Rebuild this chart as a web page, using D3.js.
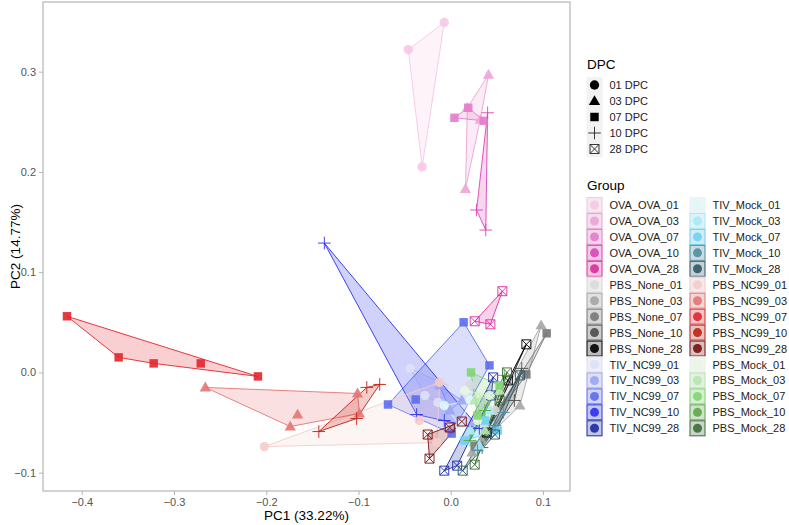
<!DOCTYPE html>
<html>
<head>
<meta charset="utf-8">
<script src="https://cdn.jsdelivr.net/npm/d3@7"></script>
<style>
  body { margin: 0; background: #fff; }
  text { font-family: "Liberation Sans", Arial, sans-serif; }
</style>
</head>
<body>
<div id="chart"></div>
<script>
// PCA scores: [DPC, PC1, PC2]
const OVA_OVA = [
  ["01", -0.007, 0.349], ["01", -0.046, 0.322], ["01", -0.031, 0.205],
  ["03", 0.041, 0.297], ["03", 0.018, 0.264], ["03", 0.016, 0.183], ["03", 0.032, 0.252],
  ["07", 0.004, 0.254], ["07", 0.019, 0.264], ["07", 0.036, 0.251],
  ["10", 0.040, 0.259], ["10", 0.028, 0.162], ["10", 0.038, 0.142],
  ["28", 0.056, 0.081], ["28", 0.026, 0.051], ["28", 0.043, 0.048]
];
const PBS_None = [
  ["01", 0.021, -0.013], ["01", 0.048, -0.038], ["01", 0.037, -0.053],
  ["03", 0.098, 0.047], ["03", 0.075, -0.033], ["03", 0.023, -0.080], ["03", 0.034, -0.068],
  ["07", 0.104, 0.039], ["07", 0.082, -0.002], ["07", 0.026, -0.073],
  ["10", 0.077, 0.004], ["10", 0.069, -0.028], ["10", 0.034, -0.075],
  ["28", 0.082, 0.028], ["28", 0.062, -0.008], ["28", 0.039, -0.060]
];
const TIV_NC99 = [
  ["01", -0.044, 0.004], ["01", -0.014, -0.030], ["01", 0.002, -0.015], ["01", -0.028, -0.023],
  ["03", -0.012, -0.013], ["03", 0.012, -0.028], ["03", -0.001, -0.038],
  ["07", 0.014, 0.050], ["07", 0.042, 0.007], ["07", -0.068, -0.032], ["07", -0.038, -0.027], ["07", 0.001, -0.061],
  ["10", -0.137, 0.129], ["10", -0.037, -0.042], ["10", 0.031, -0.056], ["10", -0.007, -0.048],
  ["28", -0.007, -0.098], ["28", 0.007, -0.093], ["28", 0.046, -0.005], ["28", 0.044, -0.023]
];
const TIV_Mock = [
  ["01", -0.007, -0.033], ["01", 0.021, -0.028], ["01", 0.010, -0.053],
  ["03", 0.021, -0.058], ["03", 0.042, -0.038], ["03", 0.031, -0.073],
  ["07", 0.015, -0.068], ["07", 0.037, -0.048], ["07", 0.051, -0.058],
  ["10", 0.057, -0.040], ["10", 0.029, -0.078], ["10", 0.048, -0.053],
  ["28", 0.013, -0.098], ["28", 0.048, -0.062], ["28", 0.075, -0.003]
];
const PBS_NC99 = [
  ["01", -0.202, -0.074], ["01", -0.012, -0.010], ["01", -0.015, -0.070], ["01", -0.034, -0.048],
  ["03", -0.266, -0.015], ["03", -0.166, -0.042], ["03", -0.174, -0.054], ["03", -0.101, -0.021], ["03", -0.099, -0.041],
  ["07", -0.416, 0.056], ["07", -0.360, 0.015], ["07", -0.322, 0.009], ["07", -0.271, 0.009], ["07", -0.209, -0.004],
  ["10", -0.143, -0.059], ["10", -0.077, -0.012], ["10", -0.091, -0.015], ["10", -0.102, -0.046],
  ["28", -0.025, -0.062], ["28", -0.023, -0.086], ["28", 0.012, -0.049], ["28", -0.001, -0.055]
];
const PBS_Mock = [
  ["01", 0.015, -0.018], ["01", 0.042, -0.023], ["01", 0.029, -0.048],
  ["03", 0.026, -0.028], ["03", 0.053, -0.018], ["03", 0.037, -0.058],
  ["07", 0.022, 0.000], ["07", 0.053, -0.013], ["07", 0.029, -0.043],
  ["10", 0.058, -0.003], ["10", 0.037, -0.038], ["10", 0.021, -0.068],
  ["28", 0.026, -0.092], ["28", 0.061, 0.000], ["28", 0.053, -0.028]
];

const dpcLevels = ["01", "03", "07", "10", "28"];
const dpcLabels = ["01 DPC", "03 DPC", "07 DPC", "10 DPC", "28 DPC"];
const treatments = ["OVA_OVA", "PBS_None", "TIV_NC99", "TIV_Mock", "PBS_NC99", "PBS_Mock"];
const treatmentData = [OVA_OVA, PBS_None, TIV_NC99, TIV_Mock, PBS_NC99, PBS_Mock];
const palette = [
  ["#f6c8e4", "#eea3d6", "#e47ccb", "#dc45b6", "#df2ca0"],
  ["#d9d9d9", "#a6a6a6", "#787878", "#4d4d4d", "#000000"],
  ["#dde1fa", "#9ba4f3", "#5c6cf0", "#2b30ee", "#1c2aa6"],
  ["#dff8fc", "#a6ebfb", "#6cd2f6", "#4b8fa3", "#2d5868"],
  ["#f6cbcb", "#e67474", "#e3252c", "#c0220f", "#7b0f0f"],
  ["#e6f7e2", "#b5e6ac", "#80d66f", "#5aaa48", "#3d6e35"]
];
const xTicks = [-0.4, -0.3, -0.2, -0.1, 0.0, 0.1];
const yTicks = [-0.1, 0.0, 0.1, 0.2, 0.3];

const width = 789, height = 525;
const svg = d3.select("#chart").append("svg")
  .attr("width", width)
  .attr("height", height);

const panel = { left: 43, right: 570, top: 2, bottom: 491 };
const x = d3.scaleLinear().domain([-0.442, 0.1293]).range([panel.left, panel.right]);
const y = d3.scaleLinear().domain([-0.1183, 0.3695]).range([panel.bottom, panel.top]);

// marker shapes by DPC
function shapePath(dpc, s) {
  const p = d3.path();
  if (dpc === "01") {
    p.arc(0, 0, s * 0.52, 0, 2 * Math.PI);
  } else if (dpc === "03") {
    const h = s * 1.05;
    p.moveTo(0, -h * 0.62); p.lineTo(h * 0.6, h * 0.42); p.lineTo(-h * 0.6, h * 0.42); p.closePath();
  } else if (dpc === "07") {
    const a = s * 0.47;
    p.rect(-a, -a, 2 * a, 2 * a);
  } else if (dpc === "10") {
    const a = s * 0.7;
    p.moveTo(-a, 0); p.lineTo(a, 0); p.moveTo(0, -a); p.lineTo(0, a);
  } else {
    const a = s * 0.5;
    p.rect(-a, -a, 2 * a, 2 * a);
    p.moveTo(-a, -a); p.lineTo(a, a); p.moveTo(a, -a); p.lineTo(-a, a);
  }
  return p.toString();
}
const filled = d => d === "01" || d === "03" || d === "07";

// flatten into groups
const groups = [];
treatments.forEach((t, ti) => {
  dpcLevels.forEach((d, di) => {
    const pts = treatmentData[ti].filter(r => r[0] === d);
    groups.push({ name: t + "_" + d, dpc: d, color: palette[ti][di], pts });
  });
});

// panel border
svg.append("rect")
  .attr("x", panel.left).attr("y", panel.top)
  .attr("width", panel.right - panel.left).attr("height", panel.bottom - panel.top)
  .attr("fill", "#fff");

// hulls
const hullG = svg.append("g");
groups.forEach(g => {
  const px = g.pts.map(r => [x(r[1]), y(r[2])]);
  const hull = d3.polygonHull(px) || px;
  hullG.append("path")
    .attr("d", "M" + hull.map(p => p.join(",")).join("L") + "Z")
    .attr("fill", g.color)
    .attr("fill-opacity", 0.22)
    .attr("stroke", g.color)
    .attr("stroke-width", 1)
    .attr("stroke-opacity", 0.9);
});

// points
const ptG = svg.append("g");
groups.forEach(g => {
  ptG.selectAll(null)
    .data(g.pts)
    .enter()
    .append("path")
      .attr("transform", r => `translate(${x(r[1])},${y(r[2])})`)
      .attr("d", r => shapePath(r[0], 9))
      .attr("fill", r => filled(r[0]) ? g.color : "none")
      .attr("stroke", g.color)
      .attr("stroke-width", r => filled(r[0]) ? 0 : 1)
      .attr("opacity", 0.9);
});

svg.append("rect")
  .attr("x", panel.left).attr("y", panel.top)
  .attr("width", panel.right - panel.left).attr("height", panel.bottom - panel.top)
  .attr("fill", "none")
  .attr("stroke", "#b5b5b5")
  .attr("stroke-width", 1.2);

// axes
const xAxis = svg.append("g")
  .attr("transform", `translate(0,${panel.bottom})`)
  .call(d3.axisBottom(x).tickValues(xTicks).tickFormat(d3.format(".1f")).tickSize(4).tickPadding(3));
const yAxis = svg.append("g")
  .attr("transform", `translate(${panel.left},0)`)
  .call(d3.axisLeft(y).tickValues(yTicks).tickFormat(d3.format(".1f")).tickSize(4).tickPadding(3));
[xAxis, yAxis].forEach(a => {
  a.select(".domain").remove();
  a.selectAll(".tick line").attr("stroke", "#b5b5b5");
  a.selectAll(".tick text").attr("fill", "#555").style("font-size", "11px")
    .style("font-family", "'Liberation Sans', Arial, sans-serif");
});

svg.append("text")
  .attr("x", (panel.left + panel.right) / 2).attr("y", 520)
  .attr("text-anchor", "middle")
  .style("font-size", "13.5px")
  .text("PC1 (33.22%)");
svg.append("text")
  .attr("transform", `translate(20,${(panel.top + panel.bottom) / 2}) rotate(-90)`)
  .attr("text-anchor", "middle")
  .style("font-size", "13.5px")
  .text("PC2 (14.77%)");

// DPC legend
const lg = svg.append("g");
lg.append("text").attr("x", 587).attr("y", 69).style("font-size", "13.5px").text("DPC");
dpcLevels.forEach((d, i) => {
  const cy = 85 + i * 16;
  lg.append("rect").attr("x", 586.5).attr("y", cy - 8).attr("width", 16).attr("height", 16).attr("fill", "#f2f2f2");
  lg.append("path")
    .attr("transform", `translate(594.5,${cy})`)
    .attr("d", shapePath(d, 9))
    .attr("fill", filled(d) ? "#000" : "none")
    .attr("stroke", filled(d) ? "none" : "#222")
    .attr("stroke-width", 0.9);
  lg.append("text").attr("x", 609.5).attr("y", cy + 4).style("font-size", "11px").attr("fill", "#222").text(dpcLabels[i]);
});

// Group legend (3 treatments per column)
lg.append("text").attr("x", 587).attr("y", 190).style("font-size", "13.5px").text("Group");
groups.forEach((g, i) => {
  const col = Math.floor(i / 15);
  const row = i % 15;
  const kx = col === 0 ? 586.5 : 689.5;
  const cy = 205 + row * 15.95;
  lg.append("rect").attr("x", kx).attr("y", cy - 8).attr("width", 16).attr("height", 16).attr("fill", "#f2f2f2");
  lg.append("rect").attr("x", kx + 0.5).attr("y", cy - 7.5).attr("width", 15).attr("height", 15)
    .attr("fill", g.color).attr("fill-opacity", 0.22)
    .attr("stroke", g.color).attr("stroke-width", 1);
  lg.append("circle").attr("cx", kx + 8).attr("cy", cy).attr("r", 4.5).attr("fill", g.color).attr("opacity", 0.9);
  lg.append("text").attr("x", kx + 23).attr("y", cy + 4).style("font-size", "11px").attr("fill", "#222").text(g.name);
});
</script>
</body>
</html>
